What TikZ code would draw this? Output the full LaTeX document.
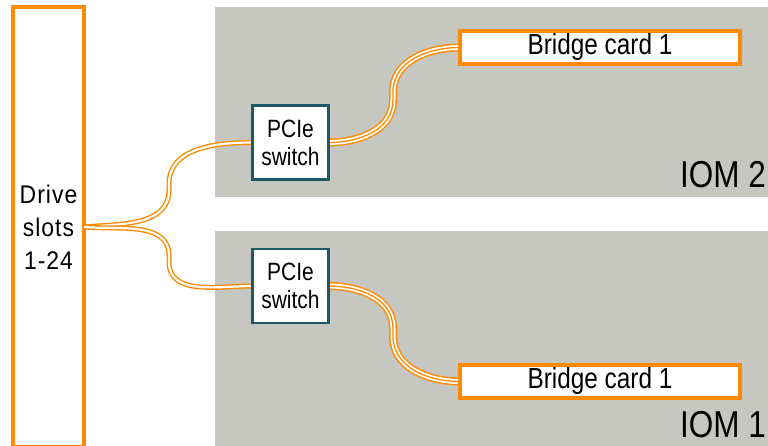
\documentclass[tikz,border=0pt]{standalone}
\usepackage{fontspec}
\setmainfont{Liberation Sans}[FakeStretch=0.84]
\newfontfamily\slotfont{Liberation Sans}[FakeStretch=0.9, LetterSpace=4]
\definecolor{cOrange}{HTML}{FF8A00}
\definecolor{cGrey}{HTML}{C7C7C2}
\definecolor{cTeal}{HTML}{1E5868}
\tikzset{
  iom/.style={fill=cGrey, draw=none},
  slotbox/.style={draw=cOrange, line width=3.5pt, fill=white, inner sep=0pt, outer sep=0pt, align=center,
    font=\slotfont\fontsize{25.5}{33}\selectfont},
  switchbox/.style={draw=cTeal, line width=2.5pt, fill=white, inner sep=0pt, outer sep=0pt, align=center,
    minimum width=76pt, minimum height=74pt, font=\fontsize{25}{28}\selectfont},
  bridgebox/.style={draw=cOrange, line width=3.5pt, fill=white, inner sep=0pt, outer sep=0pt,
    minimum width=280pt, minimum height=33pt, font=\fontsize{29}{30}\selectfont},
  iomlabel/.style={anchor=base east, inner sep=0pt, font=\fontsize{37.5}{40}\selectfont},
  dcable/.style={draw=cOrange, line width=1.4pt, double=white, double distance=2.2pt},
  tcable/.style={draw=white, line width=5pt, preaction={draw=cOrange, line width=8pt},
    postaction={draw=cOrange, line width=1.3pt}},
}
\begin{document}
\begin{tikzpicture}[x=1pt, y=-1pt]
\useasboundingbox (0,0) rectangle (768,446);
\clip (0,0) rectangle (768,446);
% IOM backgrounds
\path[iom] (215,7) rectangle (790,197);
\path[iom] (215,231) rectangle (790,470);
\node[iomlabel] (iom2) at (766,188) {IOM 2};
\node[iomlabel] (iom1) at (766,437) {IOM 1};
% nodes
\node[slotbox, minimum width=71pt, minimum height=440pt] (drive) at (48.5,227) {Drive\\slots\\1-24};
\node[switchbox] (sw2) at (290.5,142.5) {PCIe\\switch};
\node[switchbox] (sw1) at (290.5,286) {PCIe\\switch};
\node[bridgebox] (br2) at (600,47.5) {Bridge card 1};
\node[bridgebox] (br1) at (600,381.5) {Bridge card 1};
% cables
\draw[dcable] (drive.east) to[out=5,in=-90] (169,190) -- (169,184) to[out=90,in=180] (sw2.west);
\draw[dcable] (drive.east) to[out=-5,in=90] (169,256) -- (169,262) to[out=-90,in=180] (sw1.west);
\draw[tcable] (sw2.east) to[out=0,in=-90] (393,100) -- (393,92) to[out=90,in=180] (br2.west);
\draw[tcable] (sw1.east) to[out=0,in=90] (393,328) -- (393,336) to[out=-90,in=180] (br1.west);
% redraw boxes over cable ends
\node[switchbox] at (sw2) {PCIe\\switch};
\node[switchbox] at (sw1) {PCIe\\switch};
\node[bridgebox] at (br2) {Bridge card 1};
\node[bridgebox] at (br1) {Bridge card 1};
\end{tikzpicture}
\end{document}
